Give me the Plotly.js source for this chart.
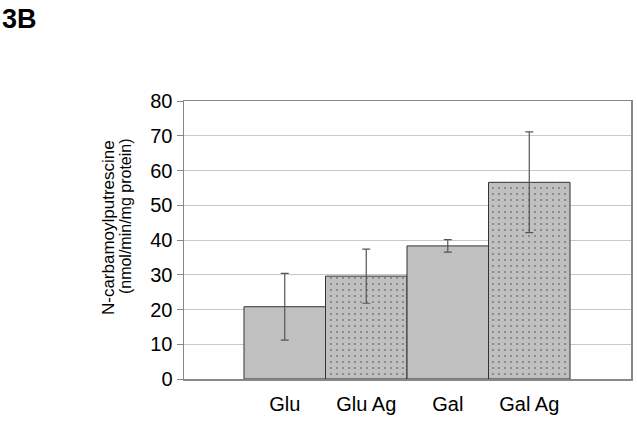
<!DOCTYPE html>
<html>
<head>
<meta charset="utf-8">
<script src="https://cdn.plot.ly/plotly-3.0.1.min.js"></script>
<style>html,body{margin:0;padding:0;background:#fff;}#chart{width:637px;height:423px;}</style>
</head>
<body>
<div id="chart"></div>
<script>
const categories = ["Glu", "Glu Ag", "Gal", "Gal Ag"];
const values = [20.8, 29.6, 38.3, 56.6];
const errors = [9.6, 7.8, 1.8, 14.5];
const patterned = [false, true, false, true];
const yTicks = [0, 10, 20, 30, 40, 50, 60, 70, 80];

const trace = {
  type: "bar",
  x: categories.map((c, i) => i),
  y: values,
  width: 1,
  marker: {
    color: "#c0c0c0",
    line: {color: "#333333", width: 1},
    pattern: {
      shape: patterned.map(p => p ? "." : ""),
      fgcolor: "#4a4a4a",
      bgcolor: "#c0c0c0",
      size: 6,
      solidity: 0.06
    }
  },
  error_y: {type: "data", array: errors, visible: true, color: "#555555", thickness: 1.2, width: 4},
  hoverinfo: "none"
};

const layout = {
  width: 637, height: 423,
  margin: {l: 184, r: 6, t: 101, b: 44},
  paper_bgcolor: "#ffffff", plot_bgcolor: "#ffffff",
  showlegend: false,
  bargap: 0,
  font: {family: "Liberation Sans, Arial, sans-serif", color: "#000"},
  xaxis: {
    range: [-1.236, 4.248],
    tickmode: "array",
    tickvals: categories.map((c, i) => i),
    ticktext: categories,
    tickfont: {size: 20, color: "#000"},
    ticks: "outside",
    ticklen: 6,
    tickcolor: "rgba(0,0,0,0)",
    showgrid: false,
    zeroline: false,
    showline: true, mirror: true, linecolor: "#888888", linewidth: 1.5
  },
  yaxis: {
    range: [0, 80],
    tickmode: "array",
    tickvals: yTicks,
    ticktext: yTicks.map(String),
    tickfont: {size: 20, color: "#000"},
    ticks: "outside", ticklen: 6, tickcolor: "#888888",
    showgrid: true, gridcolor: "#c8c8c8", gridwidth: 1,
    zeroline: false,
    showline: true, mirror: true, linecolor: "#888888", linewidth: 1.5
  },
  annotations: [
    {text: "<b>3B</b>", xref: "paper", yref: "paper", x: -0.41, y: 1.352, xanchor: "left", yanchor: "top",
     showarrow: false, borderpad: 0, font: {size: 27, color: "#000"}},
    {text: "N-carbamoylputrescine", xref: "paper", yref: "paper", x: 0, y: 0.543, xanchor: "center", yanchor: "middle",
     xshift: -76, textangle: -90, showarrow: false, font: {size: 17, color: "#000"}},
    {text: "(nmol/min/mg protein)", xref: "paper", yref: "paper", x: 0, y: 0.586, xanchor: "center", yanchor: "middle",
     xshift: -59, textangle: -90, showarrow: false, font: {size: 16, color: "#000"}}
  ]
};

Plotly.newPlot("chart", [trace], layout, {displayModeBar: false, staticPlot: true});
</script>
</body>
</html>
